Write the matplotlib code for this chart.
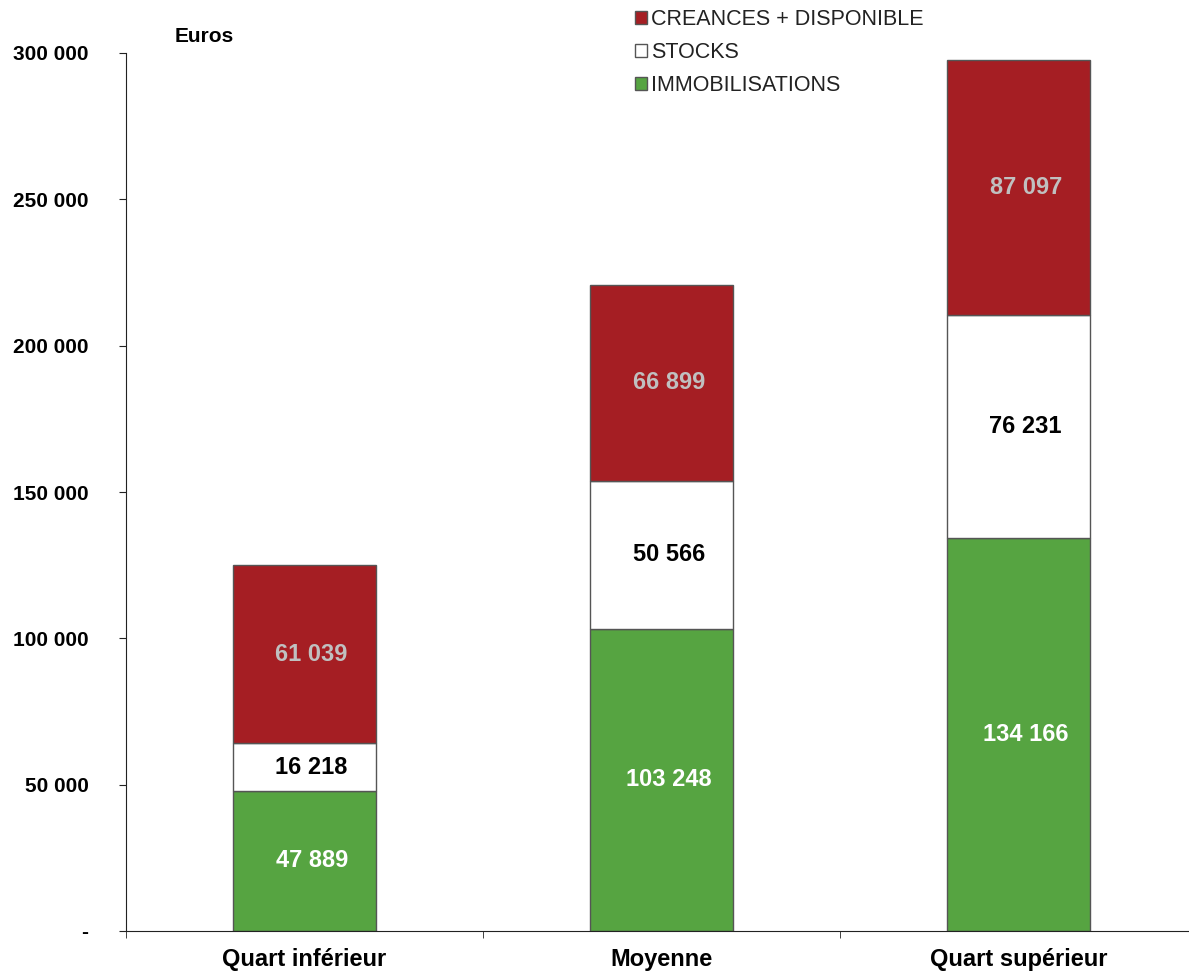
import matplotlib.pyplot as plt
from matplotlib.patches import Patch

plt.rcParams['font.family'] = ['Liberation Sans', 'DejaVu Sans']

categories = ['Quart inférieur', 'Moyenne', 'Quart supérieur']
immobilisations = [47889, 103248, 134166]
stocks = [16218, 50566, 76231]
creances = [61039, 66899, 87097]
yticks = [0, 50000, 100000, 150000, 200000, 250000, 300000]
ytick_labels = ['-', '50 000', '100 000', '150 000', '200 000', '250 000', '300 000']

GREEN = '#56a441'
RED = '#a51e23'
EDGE = '#555555'


def fmt(v):
    return '{:,}'.format(v).replace(',', ' ')


fig = plt.figure(figsize=(11.89, 9.74), dpi=100)
ax = fig.add_axes([126 / 1189, 43 / 974, 1071 / 1189, 878 / 974])

x = list(range(len(categories)))
bottom2 = [a + b for a, b in zip(immobilisations, stocks)]
ax.bar(x, immobilisations, 0.4, color=GREEN, edgecolor=EDGE, linewidth=1)
ax.bar(x, stocks, 0.4, bottom=immobilisations, color='white', edgecolor=EDGE, linewidth=1)
ax.bar(x, creances, 0.4, bottom=bottom2, color=RED, edgecolor=EDGE, linewidth=1)

for i in x:
    ax.text(i + 0.02, immobilisations[i] / 2, fmt(immobilisations[i]), ha='center', va='center',
            fontsize=17, fontweight='bold', color='white')
    ax.text(i + 0.02, immobilisations[i] + stocks[i] / 2, fmt(stocks[i]), ha='center', va='center',
            fontsize=17, fontweight='bold', color='black')
    ax.text(i + 0.02, bottom2[i] + creances[i] / 2, fmt(creances[i]), ha='center', va='center',
            fontsize=17, fontweight='bold', color='#c0c0c0')

ax.set_xlim(-0.5, 2.5)
ax.set_ylim(0, 300000)
ax.set_yticks(yticks)
ax.set_yticklabels(ytick_labels, fontsize=15, fontweight='bold')
ax.tick_params(axis='y', length=5, pad=22, color='#222222')

ax.set_xticks(x)
ax.set_xticklabels(categories, fontsize=17, fontweight='bold')
ax.set_xticks([-0.5, 0.5, 1.5, 2.5], minor=True)
ax.tick_params(axis='x', which='major', length=0, pad=12)
ax.tick_params(axis='x', which='minor', length=5, color='#222222')

for s in ['top', 'right']:
    ax.spines[s].set_visible(False)
ax.spines['left'].set_color('#222222')
ax.spines['bottom'].set_color('#222222')

fig.text(175 / 1189, 1 - 36 / 974, 'Euros', fontsize=15, fontweight='bold', va='center')

handles = [Patch(facecolor=RED, edgecolor=EDGE), Patch(facecolor='white', edgecolor=EDGE),
           Patch(facecolor=GREEN, edgecolor=EDGE)]
labels = ['CREANCES + DISPONIBLE', 'STOCKS', 'IMMOBILISATIONS']
fig.legend(handles, labels, loc='upper left', bbox_to_anchor=(631 / 1189, 1 - 5 / 974), frameon=False,
           prop={'size': 15.5}, labelcolor='#222222', handlelength=0.52, handleheight=0.52,
           handletextpad=0.2, labelspacing=0.55, borderaxespad=0, borderpad=0.2)

fig.savefig('out.png', dpi=100)
